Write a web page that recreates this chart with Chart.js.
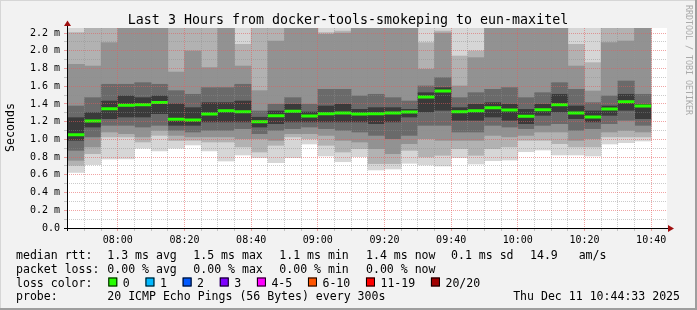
<!DOCTYPE html>
<html><head><meta charset="utf-8">
<script src="https://cdn.jsdelivr.net/npm/chart.js@4.4.1/dist/chart.umd.min.js"></script>
<style>html,body{margin:0;padding:0;background:#f2f2f2;overflow:hidden}canvas{display:block}</style>
</head><body>
<canvas id="c" width="697" height="310"></canvas>
<script>
// ---- data ----
const times = ["07:45","07:50","07:55","08:00","08:05","08:10","08:15","08:20","08:25","08:30","08:35","08:40",
  "08:45","08:50","08:55","09:00","09:05","09:10","09:15","09:20","09:25","09:30","09:35","09:40",
  "09:45","09:50","09:55","10:00","10:05","10:10","10:15","10:20","10:25","10:30","10:35"];
// median rtt (ms)
const median = [1.053,1.208,1.347,1.385,1.392,1.415,1.227,1.219,1.287,1.324,1.313,1.200,1.268,1.317,1.264,1.290,1.298,1.287,
  1.290,1.298,1.309,1.479,1.546,1.313,1.324,1.358,1.332,1.260,1.335,1.392,1.298,1.253,1.343,1.425,1.377];
// lowest ping (ms)
const minV = [0.627,0.715,0.778,0.780,0.900,0.870,0.900,0.937,0.870,0.756,0.824,0.793,0.737,0.793,0.948,0.813,0.748,0.805,
  0.655,0.666,0.730,0.711,0.700,0.793,0.722,0.760,0.767,0.861,0.880,0.824,0.824,0.813,0.948,0.963,0.982];
// smoke band edges below the median (outer -> inner)
const lo4 = [0.700,0.831,1.020,1.020,0.963,1.038,0.980,0.982,0.963,0.963,0.907,0.850,0.926,1.020,1.000,0.926,0.850,0.888,
  0.719,0.719,0.869,0.794,0.813,0.888,0.813,0.888,0.907,0.982,0.982,0.944,0.907,0.907,1.020,1.020,1.020];
const lo3 = [0.756,0.907,1.076,1.057,1.020,1.095,1.038,1.020,1.020,1.020,1.000,1.000,0.982,1.057,1.057,1.038,0.982,0.963,
  0.888,0.831,0.944,1.000,0.982,0.982,0.982,1.038,1.020,1.038,1.076,1.076,0.982,1.000,1.076,1.095,1.076];
const lo2 = [0.869,1.020,1.151,1.151,1.132,1.151,1.095,1.076,1.095,1.095,1.114,1.057,1.095,1.114,1.132,1.114,1.095,1.076,
  1.038,1.000,1.038,1.151,1.151,1.076,1.076,1.151,1.132,1.114,1.151,1.170,1.095,1.114,1.170,1.208,1.151];
const lo1 = [0.982,1.132,1.226,1.245,1.245,1.283,1.151,1.151,1.189,1.189,1.189,1.132,1.170,1.189,1.189,1.189,1.189,1.189,
  1.170,1.189,1.245,1.302,1.321,1.208,1.208,1.245,1.208,1.170,1.264,1.302,1.226,1.189,1.264,1.321,1.226];
// smoke band edges above the median (inner -> outer)
const up1 = [1.245,1.302,1.433,1.490,1.471,1.490,1.400,1.358,1.415,1.415,1.433,1.250,1.320,1.396,1.309,1.377,1.396,1.339,
  1.358,1.358,1.339,1.527,1.584,1.358,1.396,1.415,1.396,1.339,1.396,1.509,1.377,1.321,1.377,1.509,1.396];
const up2 = [1.377,1.471,1.622,1.622,1.640,1.622,1.550,1.509,1.584,1.584,1.622,1.320,1.396,1.471,1.396,1.565,1.565,1.490,
  1.509,1.471,1.433,1.603,1.697,1.471,1.527,1.565,1.584,1.471,1.527,1.640,1.565,1.415,1.490,1.659,1.509];
const up3 = [1.847,1.828,2.092,2.300,2.300,2.300,1.760,1.998,1.810,2.300,1.828,1.550,2.110,2.300,2.300,2.186,2.200,2.300,
  2.300,2.300,2.300,1.791,2.200,1.603,1.923,2.300,2.300,2.300,2.300,2.300,1.828,1.546,2.092,2.110,2.300];
const up4 = [2.205,2.300,2.300,2.350,2.350,2.350,2.300,2.300,2.300,2.350,2.073,2.300,2.300,2.350,2.350,2.205,2.223,2.350,
  2.350,2.350,2.350,2.092,2.223,1.941,1.998,2.350,2.350,2.350,2.350,2.350,2.073,1.866,2.300,2.300,2.350];
// highest ping (ms), above the drawn range everywhere
const maxV = [2.40,2.40,2.40,2.40,2.40,2.40,2.40,2.40,2.40,2.40,2.40,2.40,2.40,2.40,2.40,2.40,2.40,2.40,
  2.40,2.40,2.40,2.40,2.40,2.40,2.40,2.40,2.40,2.40,2.40,2.40,2.40,2.40,2.40,2.40,2.40];
const stepMin = 5;
const yTicks = [0,0.1,0.2,0.3,0.4,0.5,0.6,0.7,0.8,0.9,1.0,1.1,1.2,1.3,1.4,1.5,1.6,1.7,1.8,1.9,2.0,2.1,2.2];
const xTickTimes = ["07:45","07:50","07:55","08:00","08:05","08:10","08:15","08:20","08:25","08:30","08:35","08:40",
  "08:45","08:50","08:55","09:00","09:05","09:10","09:15","09:20","09:25","09:30","09:35","09:40",
  "09:45","09:50","09:55","10:00","10:05","10:10","10:15","10:20","10:25","10:30","10:35","10:40"];
const title = "Last 3 Hours from docker-tools-smokeping to eun-maxitel";
const legendRows = [
  ["median rtt:", "1.3 ms avg", "1.5 ms max", "1.1 ms min", "1.4 ms now", "0.1 ms sd", "14.9   am/s"],
  ["packet loss:", "0.00 % avg", "0.00 % max", "0.00 % min", "0.00 % now"]
];
const lossLabels = ["0","1","2","3","4-5","6-10","11-19","20/20"];
const lossColors = ["#26ff00","#00b8ff","#0059ff","#7e00ff","#ff00ff","#ff5500","#ff0000","#a10000"];
const probeText = "20 ICMP Echo Pings (56 Bytes) every 300s";
const dateText = "Thu Dec 11 10:44:33 2025";

// ---- helpers ----
const toMin = s => { const [h,m] = s.split(':').map(Number); return h*60+m; };
const fmt = v => { const h = Math.floor(v/60), m = Math.round(v%60); return String(h).padStart(2,'0')+':'+String(m).padStart(2,'0'); };
const MONO = "'DejaVu Sans Mono', monospace";
const shade = { A:'#3a3a3a', B:'#6a6a6a', C:'#929292', D:'#b2b2b2', E:'#d6d6d6' };
const bands = [
  [minV, lo4, shade.E], [lo4, lo3, shade.D], [lo3, lo2, shade.C], [lo2, lo1, shade.B],
  [lo1, up1, shade.A],
  [up1, up2, shade.B], [up2, up3, shade.C], [up3, up4, shade.D], [up4, maxV, shade.E]
];
const datasets = bands.map(([lo, hi, col]) => ({
  type: 'bar', order: 1, grouped: false, barPercentage: 1, categoryPercentage: 1,
  backgroundColor: col, borderWidth: 0,
  data: times.map((t,i) => ({ x: toMin(t) + stepMin/2, y: [lo[i], hi[i]] }))
}));
const medPts = [];
times.forEach((t,i) => { const s = toMin(t); medPts.push({x:s,y:median[i]},{x:s+stepMin,y:median[i]},{x:s+stepMin,y:null}); });
datasets.push({ type:'line', order:0, data: medPts, borderColor:'#26ff00', borderWidth:3, pointRadius:0,
  spanGaps:false, borderCapStyle:'butt', tension:0 });

const RED = 'rgba(230,90,90,0.55)', GREY = 'rgba(140,140,140,0.45)';
const frame = {
  id: 'frame',
  beforeDraw(chart) {
    const c = chart.ctx, a = chart.chartArea;
    c.save();
    c.fillStyle = '#f2f2f2'; c.fillRect(0,0,chart.width,chart.height);
    c.fillStyle = '#d6d6d6'; c.fillRect(0,0,chart.width,1); c.fillRect(0,0,1,chart.height);
    c.fillStyle = '#9e9e9e'; c.fillRect(chart.width-2,0,2,chart.height); c.fillRect(0,chart.height-2,chart.width,2);
    c.fillStyle = '#ffffff'; c.fillRect(a.left,a.top,a.right-a.left,a.bottom-a.top);
    c.restore();
  },
  afterDraw(chart) {
    const c = chart.ctx, a = chart.chartArea;
    c.save();
    // axes
    c.strokeStyle = '#000'; c.lineWidth = 1;
    c.beginPath(); c.moveTo(a.left-3, a.bottom+0.5); c.lineTo(a.right+3, a.bottom+0.5); c.stroke();
    c.beginPath(); c.moveTo(a.left+0.5, a.bottom+3); c.lineTo(a.left+0.5, a.top-4); c.stroke();
    c.fillStyle = '#a01010';
    c.beginPath(); c.moveTo(a.right+1, a.bottom-3); c.lineTo(a.right+1, a.bottom+4); c.lineTo(a.right+7, a.bottom+0.5); c.closePath(); c.fill();
    c.beginPath(); c.moveTo(a.left-3, a.top-2); c.lineTo(a.left+4, a.top-2); c.lineTo(a.left+0.5, a.top-7.5); c.closePath(); c.fill();
    // title
    c.fillStyle = '#000'; c.textBaseline = 'alphabetic';
    c.font = '13.3px ' + MONO; c.textAlign = 'center';
    c.fillText(title, 348, 24);
    // y title
    c.save(); c.translate(11, 127.5); c.rotate(-Math.PI/2);
    c.font = '11.6px ' + MONO; c.textBaseline = 'middle'; c.fillText('Seconds', 0, 0); c.restore();
    // watermark
    c.save(); c.translate(688, 5); c.rotate(Math.PI/2);
    c.font = '8.3px ' + MONO; c.textAlign = 'left'; c.textBaseline = 'middle'; c.fillStyle = '#aaaaaa';
    c.fillText('RRDTOOL / TOBI OETIKER', 0, 0); c.restore();
    // legend
    c.font = '11.55px ' + MONO; c.textAlign = 'left'; c.fillStyle = '#000';
    const cols = [16, 107.3, 193.3, 279.3, 366, 451, 530];
    const base = [258.5, 272.5, 286.5, 300.4];
    legendRows.forEach((row, r) => row.forEach((txt, k) => c.fillText(txt, cols[k], base[r])));
    c.fillText('loss color:', cols[0], base[2]);
    let x = 108.3;
    lossLabels.forEach((lab, k) => {
      c.fillStyle = lossColors[k]; c.fillRect(x, 277.5, 9, 9);
      c.strokeStyle = '#000'; c.lineWidth = 1; c.strokeRect(x+0.5, 277.5+0.5, 8, 8);
      c.fillStyle = '#000'; c.fillText(lab, x + 14.5, base[2]);
      x = x + 14.5 + c.measureText(lab).width + 15.7;
    });
    c.fillText('probe:', cols[0], base[3]);
    c.fillText(probeText, cols[1], base[3]);
    c.textAlign = 'right'; c.fillText(dateText, 680, base[3]);
    c.restore();
  }
};

new Chart(document.getElementById('c'), {
  data: { datasets },
  options: {
    responsive: false, animation: false, devicePixelRatio: 1,
    layout: { padding: { left: 0, right: 30, top: 28, bottom: 0 } },
    plugins: { legend: { display: false }, tooltip: { enabled: false }, title: { display: false } },
    scales: {
      x: {
        type: 'linear', offset: false, min: toMin("07:44") + 0.75, max: toMin("10:44") + 0.75,
        afterBuildTicks: s => { s.ticks = xTickTimes.map(t => ({ value: toMin(t) })); },
        afterFit: s => { s.height = 82; },
        ticks: { autoSkip: false, maxRotation: 0, minRotation: 0, padding: 3, color: '#000',
          font: { family: MONO, size: 10 },
          callback: v => (v % 20 === 0 ? fmt(v) : '') },
        grid: { z: 1, tickLength: 3, offset: false,
          color: ctx => (ctx.tick && ctx.tick.value % 20 === 0 ? RED : GREY),
          tickColor: ctx => (ctx.tick && ctx.tick.value % 20 === 0 ? RED : GREY) },
        border: { display: false, dash: [1, 1] }
      },
      y: {
        type: 'linear', min: 0, max: 2.257,
        afterBuildTicks: s => { s.ticks = yTicks.map(v => ({ value: v })); },
        afterFit: s => { s.width = 67; },
        ticks: { autoSkip: false, padding: 4, color: '#000', font: { family: MONO, size: 10 },
          callback: v => { const k = Math.round(v*10); if (k % 2) return ''; return k === 0 ? '0.0' : (k/10).toFixed(1) + ' m'; } },
        grid: { z: 1, tickLength: 3,
          color: ctx => (ctx.tick && ctx.tick.value === 0 ? 'rgba(0,0,0,0)' : (Math.round(ctx.tick.value*10) % 2 === 0 ? RED : GREY)),
          tickColor: ctx => (ctx.tick && Math.round(ctx.tick.value*10) % 2 === 0 ? RED : GREY) },
        border: { display: false, dash: [1, 1] }
      }
    }
  },
  plugins: [frame]
});
</script>
</body></html>
